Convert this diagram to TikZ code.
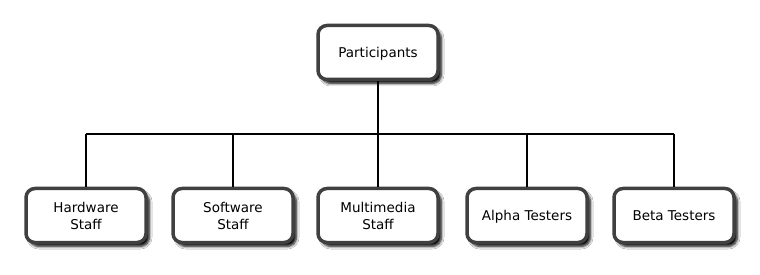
\documentclass[tikz,border=0pt]{standalone}
\usepackage{fontspec}
\setmainfont{DejaVu Sans}
\usetikzlibrary{shadows.blur}
\definecolor{boxborder}{HTML}{404040}
\begin{document}
\begin{tikzpicture}[x=1pt,y=-1pt,
  orgbox/.style={draw=boxborder, line width=3.5pt, fill=white, rounded corners=9pt,
    minimum width=120pt, minimum height=54pt, align=center, inner sep=2pt,
    text depth=0pt,
    font=\fontsize{13.5}{17}\selectfont,
    blur shadow={shadow xshift=3.5pt, shadow yshift=-4pt, shadow blur steps=6,
      shadow blur radius=2.5pt, shadow opacity=95}},
  link/.style={draw=black, line width=1.8pt}]
\useasboundingbox (0,0) rectangle (760,275);
\fill[white] (0,0) rectangle (760,275);
\coordinate (bus) at (378,134);
\node[orgbox] (root) at (378,52.5) {Participants};
\node[orgbox] (hw) at (86,215.5) {Hardware\\Staff};
\node[orgbox] (sw) at (233,215.5) {Software\\Staff};
\node[orgbox] (mm) at (378,215.5) {Multimedia\\Staff};
\node[orgbox] (at) at (527,215.5) {Alpha Testers};
\node[orgbox] (bt) at (674,215.5) {Beta Testers};
\draw[link] (root) -- (root |- bus);
\draw[link] (hw |- bus) -- (bt |- bus);
\foreach \c in {hw,sw,mm,at,bt}{
  \draw[link] (\c) -- (\c |- bus);
}
\end{tikzpicture}
\end{document}
